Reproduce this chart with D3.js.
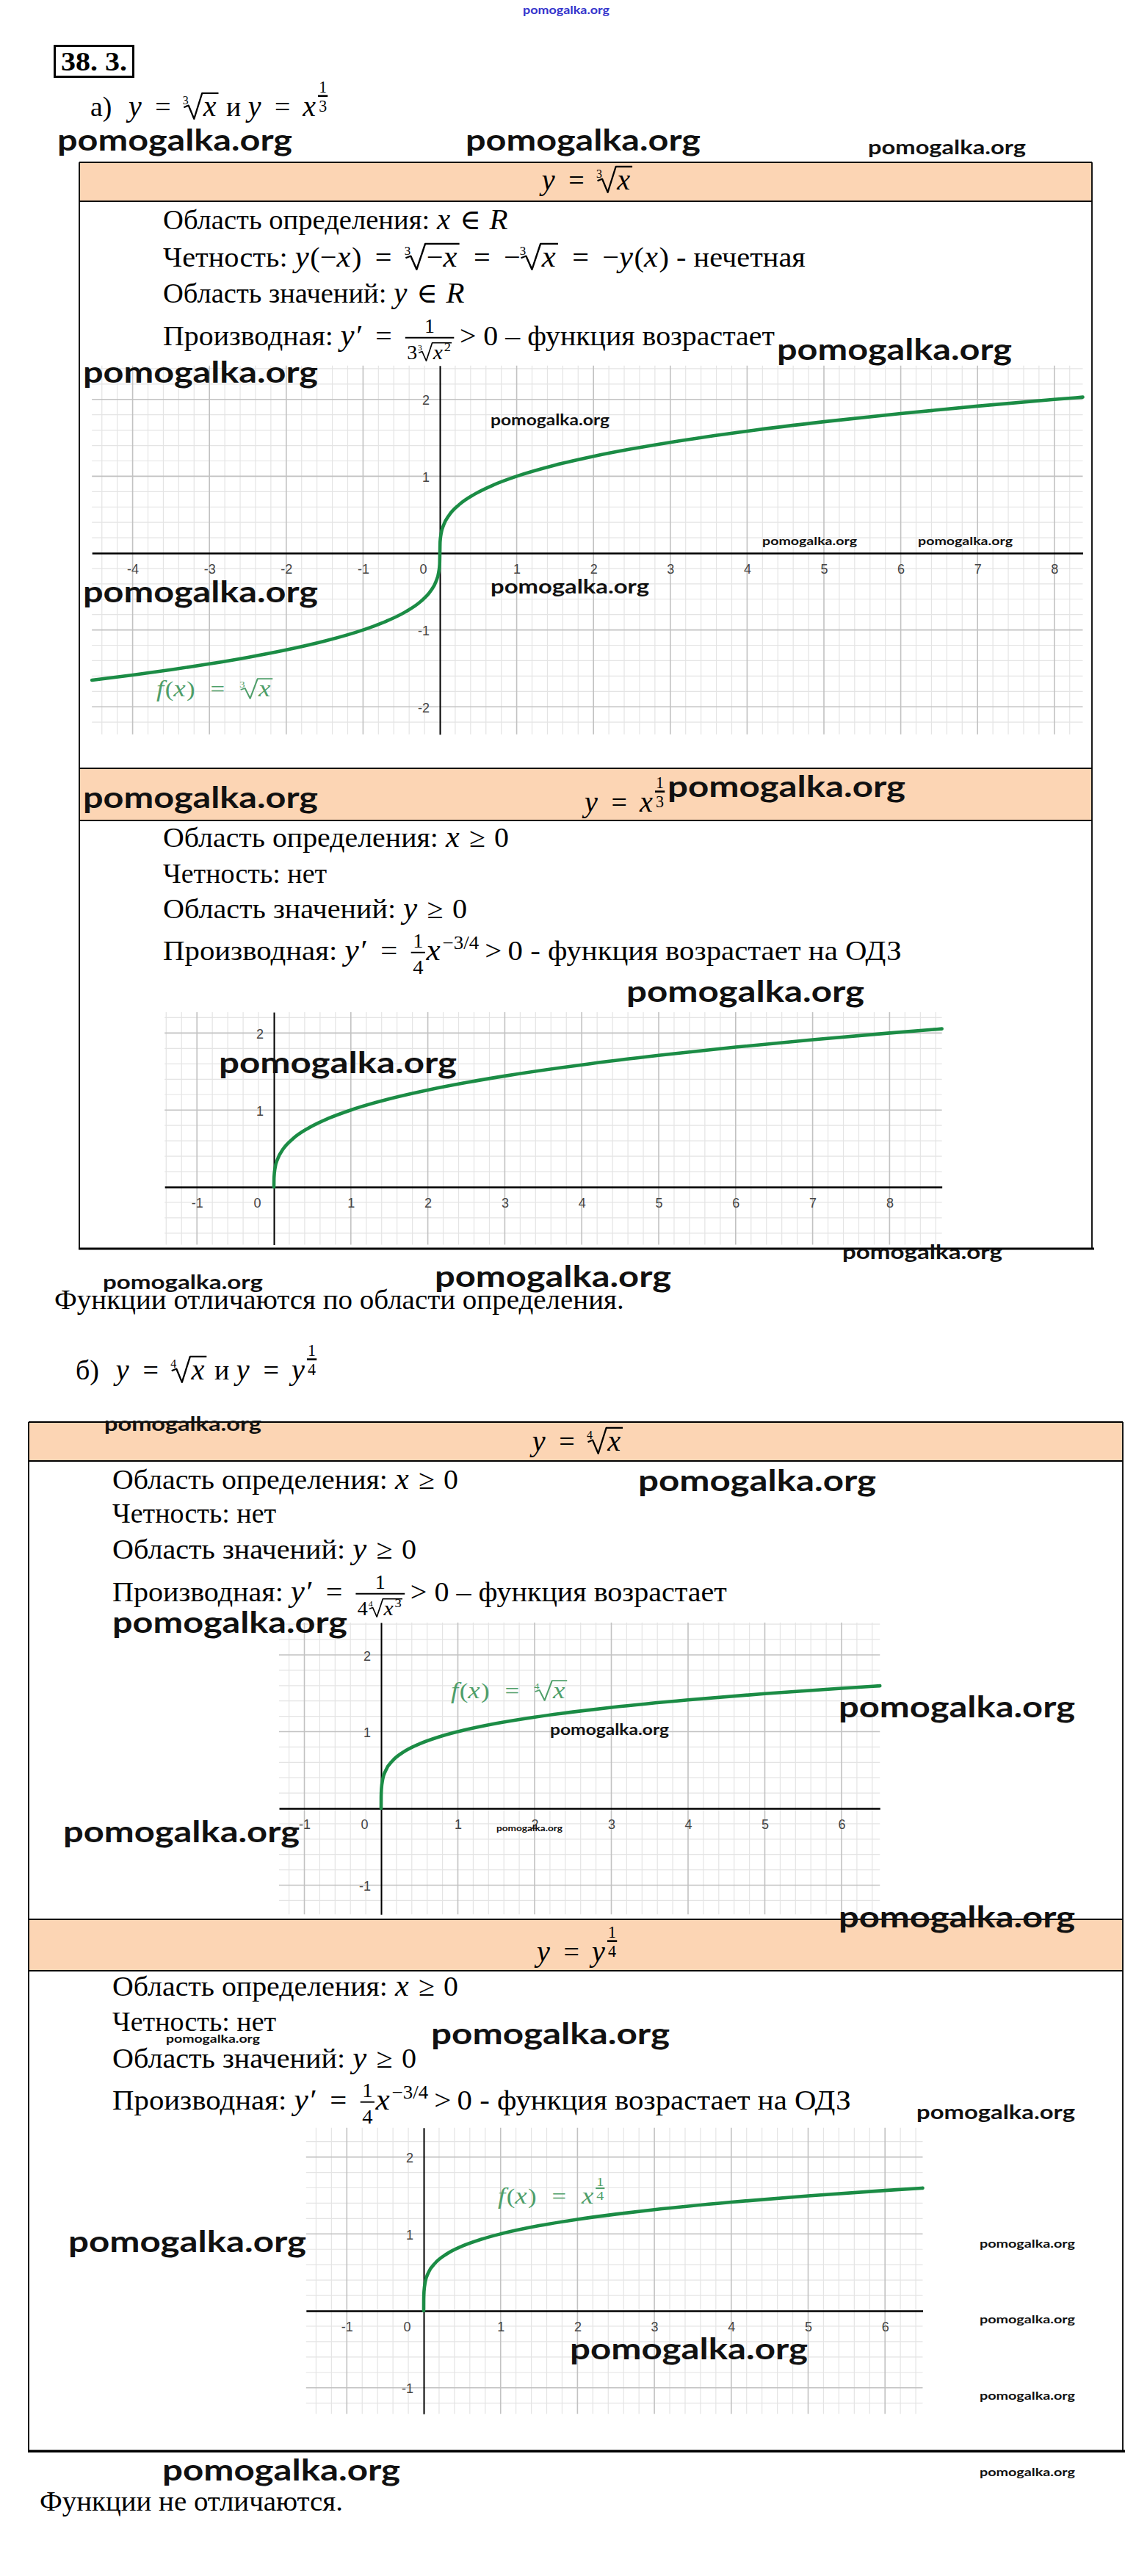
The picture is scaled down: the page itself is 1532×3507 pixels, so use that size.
<!DOCTYPE html>
<html><head><meta charset="utf-8">
<script src="https://cdn.jsdelivr.net/npm/d3@7"></script>
<style>body{margin:0;background:#fff} svg text{white-space:pre}</style>
</head><body>
<script>
// ================= DATA =================
// Graph 1: y = cbrt(x)
const g1X = [-4.53,-4,-3.5,-3,-2.5,-2,-1.5,-1,-0.7,-0.45,-0.25,-0.12,-0.05,-0.015,-0.003,0,0.003,0.015,0.05,0.12,0.25,0.45,0.7,1,1.5,2,2.5,3,4,5,6,7,8,8.37];
const g1Y = [-1.654,-1.587,-1.518,-1.442,-1.357,-1.26,-1.145,-1,-0.888,-0.766,-0.63,-0.493,-0.368,-0.247,-0.144,0,0.144,0.247,0.368,0.493,0.63,0.766,0.888,1,1.145,1.26,1.357,1.442,1.587,1.71,1.817,1.913,2.0,2.03];
// Graph 2: y = x^(1/3), x >= 0
const g2X = [0,0.002,0.015,0.05,0.12,0.25,0.45,0.7,1,1.5,2,2.5,3,4,5,6,7,8,8.68];
const g2Y = [0,0.126,0.247,0.368,0.493,0.63,0.766,0.888,1,1.145,1.26,1.357,1.442,1.587,1.71,1.817,1.913,2.0,2.055];
// Graph 3 / 4: y = x^(1/4)
const g3X = [0,0.0005,0.004,0.02,0.06,0.15,0.3,0.5,0.75,1,1.5,2,2.5,3,4,5,6,6.5];
const g3Y = [0,0.15,0.251,0.376,0.495,0.622,0.74,0.841,0.931,1,1.107,1.189,1.257,1.316,1.414,1.495,1.565,1.597];
const g4X = [0,0.0005,0.004,0.02,0.06,0.15,0.3,0.5,0.75,1,1.5,2,2.5,3,4,5,6,6.49];
const g4Y = [0,0.15,0.251,0.376,0.495,0.622,0.74,0.841,0.931,1,1.107,1.189,1.257,1.316,1.414,1.495,1.565,1.596];
// tick labels
const g1TicksX = [-4,-3,-2,-1,0,1,2,3,4,5,6,7,8];
const g1TicksY = [-2,-1,1,2];
const g2TicksX = [-1,0,1,2,3,4,5,6,7,8];
const g2TicksY = [1,2];
const g3TicksX = [-1,0,1,2,3,4,5,6];
const g3TicksY = [-1,1,2];
const g4TicksX = [-1,0,1,2,3,4,5,6];
const g4TicksY = [-1,1,2];
// texts
const WM = 'pomogalka.org';
const conclusionA = 'Функции отличаются по области определения.';
const conclusionB = 'Функции не отличаются.';

// ================= SETUP =================
const W=1532,H=3507;
const SERIF='"Liberation Serif","Times New Roman","DejaVu Serif",serif';
const SANS='"Liberation Sans","DejaVu Sans",sans-serif';
const PEACH='#fcd5b4', GREEN='#1b8c45', LGREEN='#4e9e69';
const svg=d3.select('body').append('svg').attr('width',W).attr('height',H)
  .attr('font-family',SERIF);
svg.append('rect').attr('width',W).attr('height',H).attr('fill','#fff');

const layerFill=svg.append('g');
const layerGraph=svg.append('g');
const layerText=svg.append('g').attr('fill','#000').style('color','#000');
const layerBorder=svg.append('g');
const layerWM=svg.append('g');

// ---------- formula layout ----------
function T(g,s,x,y,fs,it){
  const t=g.append('text').attr('x',x).attr('y',y).text(s);
  if(it){ t.attr('font-style','italic').attr('font-size',fs*1.06); return t.node().getComputedTextLength()+0.04*fs; }
  t.attr('font-size',fs);
  return t.node().getComputedTextLength();
}
function seq(g,items,x,y,fs){
  let cx=x;
  items.forEach(it=>{
    if(typeof it==='string') cx+=T(g,it,cx,y,fs,false);
    else if('i' in it) cx+=T(g,it.i,cx,y,fs,true);
    else if('sp' in it) cx+=it.sp*fs;
    else if('root' in it) cx=root(g,it,cx,y,fs);
    else if('frac' in it) cx=frac(g,it,cx,y,fs);
    else if('sup' in it) cx=seq(g,it.sup,cx+0.03*fs,y-0.4*fs,fs*0.66);
    else if('sfrac' in it) cx=sfrac(g,it,cx,y,fs);
  });
  return cx;
}
function root(g,it,x,y,fs){
  T(g,it.root,x-0.02*fs,y-0.43*fs,fs*0.42,false);
  const bx=x+0.72*fs;
  const ex=seq(g,it.body,bx,y,fs)+0.04*fs;
  const top=y-0.82*fs;
  g.append('path')
   .attr('d',`M${x+0.02*fs},${y-0.31*fs}L${x+0.19*fs},${y-0.38*fs}L${x+0.39*fs},${y+0.1*fs}L${x+0.68*fs},${top}L${ex},${top}`)
   .attr('fill','none').attr('stroke','currentColor').attr('stroke-width',0.06*fs).attr('stroke-linejoin','round');
  return ex+0.03*fs;
}
function frac(g,it,x,y,fs){
  const f2=fs*0.7,pad=0.06*fs;
  const gn=g.append('g'),gd=g.append('g');
  const wn=seq(gn,it.frac[0],0,0,f2), wd=seq(gd,it.frac[1],0,0,f2);
  const w=Math.max(wn,wd)+2*pad, bar=y-0.27*fs;
  gn.attr('transform',`translate(${x+(w-wn)/2},${bar-0.18*fs})`);
  gd.attr('transform',`translate(${x+(w-wd)/2},${bar+0.76*fs})`);
  g.append('line').attr('x1',x).attr('x2',x+w).attr('y1',bar).attr('y2',bar)
   .attr('stroke','currentColor').attr('stroke-width',0.05*fs);
  return x+w+0.04*fs;
}
function sfrac(g,it,x,y,fs){
  const f2=fs*0.58,pad=0.03*fs;
  const gn=g.append('g'),gd=g.append('g');
  const wn=seq(gn,it.sfrac[0],0,0,f2), wd=seq(gd,it.sfrac[1],0,0,f2);
  const w=Math.max(wn,wd)+2*pad, bar=y-0.72*fs, x0=x+0.04*fs;
  gn.attr('transform',`translate(${x0+(w-wn)/2},${bar-0.12*fs})`);
  gd.attr('transform',`translate(${x0+(w-wd)/2},${bar+0.56*fs})`);
  g.append('line').attr('x1',x0).attr('x2',x0+w).attr('y1',bar).attr('y2',bar)
   .attr('stroke','currentColor').attr('stroke-width',0.07*fs);
  return x0+w+0.02*fs;
}
// opts.end: right edge in the reference -> mild horizontal fit
function formula(items,x,y,fs,opts={}){
  const g=layerText.append('g');
  if(opts.color) g.attr('fill',opts.color).style('color',opts.color);
  const inner=g.append('g');
  const w=seq(inner,items,0,0,fs);
  let sx=1;
  if(opts.end!==undefined){ sx=(opts.end-x)/w; sx=Math.max(0.85,Math.min(1.2,sx)); }
  const left=opts.center!==undefined? opts.center-w/2 : x;
  g.attr('transform',`translate(${left},${y}) scale(${sx},1)`);
  return g;
}

// ---------- tables ----------
function table(x1,x2,y1,y2,heads,bottomW){
  heads.forEach(([a,b])=>layerFill.append('rect').attr('x',x1).attr('y',a).attr('width',x2-x1).attr('height',b-a).attr('fill',PEACH));
  const b=layerBorder;
  const hl=(y,w,xa=x1,xb=x2)=>b.append('line').attr('x1',xa).attr('x2',xb).attr('y1',y).attr('y2',y).attr('stroke','#000').attr('stroke-width',w);
  hl(y1,2.2);
  heads.forEach(([a,bb])=>{hl(a,2.2);hl(bb,2.2);});
  hl(y2,bottomW,x1-1,x2+3);
  [x1,x2].forEach(x=>b.append('line').attr('x1',x).attr('x2',x).attr('y1',y1).attr('y2',y2).attr('stroke','#000').attr('stroke-width',1.8));
}
table(108,1487,221,1700,[[221,274],[1046,1117]],3);
table(39,1529,1936,3337,[[1936,1989],[2613,2683]],3.5);

// ---------- graphs ----------
function graph(cfg,xs,ys,tx,ty){
  const g=layerGraph.append('g');
  const x=d3.scaleLinear().domain(cfg.xd).range([cfg.ox+cfg.xd[0]*cfg.u,cfg.ox+cfg.xd[1]*cfg.u]);
  const y=d3.scaleLinear().domain(cfg.yd).range([cfg.oy-cfg.yd[0]*cfg.u,cfg.oy-cfg.yd[1]*cfg.u]);
  const [xa,xb]=x.range(),[yb,yt]=y.range();
  const isInt=v=>Math.abs(v-Math.round(v))<1e-6;
  const sub=d=>d3.range(Math.ceil(d[0]*5-1e-9),Math.floor(d[1]*5+1e-9)+1).map(k=>k/5);
  const vx=sub(cfg.xd), vy=sub(cfg.yd);
  g.selectAll('.mx').data(vx.filter(v=>!isInt(v))).join('line').attr('x1',d=>x(d)).attr('x2',d=>x(d)).attr('y1',yt).attr('y2',yb).attr('stroke','#e4e4e4').attr('stroke-width',1.2);
  g.selectAll('.my').data(vy.filter(v=>!isInt(v))).join('line').attr('y1',d=>y(d)).attr('y2',d=>y(d)).attr('x1',xa).attr('x2',xb).attr('stroke','#e4e4e4').attr('stroke-width',1.2);
  g.selectAll('.Mx').data(vx.filter(v=>isInt(v)&&Math.round(v)!==0)).join('line').attr('x1',d=>x(d)).attr('x2',d=>x(d)).attr('y1',yt).attr('y2',yb).attr('stroke','#c2c2c2').attr('stroke-width',1.6);
  g.selectAll('.My').data(vy.filter(v=>isInt(v)&&Math.round(v)!==0)).join('line').attr('y1',d=>y(d)).attr('y2',d=>y(d)).attr('x1',xa).attr('x2',xb).attr('stroke','#c2c2c2').attr('stroke-width',1.6);
  const ax=g.append('g').attr('transform',`translate(0,${y(0)})`)
    .call(d3.axisBottom(x).tickValues(tx).tickSize(0).tickSizeOuter(0).tickFormat(d=>String(d)));
  ax.attr('font-size',18).attr('font-family',SANS);
  ax.select('.domain').attr('stroke','#000').attr('stroke-width',2.4);
  ax.selectAll('text').attr('y',28).attr('dy',null).attr('fill','#444');
  ax.selectAll('.tick').filter(d=>d===0).select('text').attr('x',-23);
  const ay=g.append('g').attr('transform',`translate(${x(0)},0)`)
    .call(d3.axisLeft(y).tickValues(ty).tickSize(0).tickSizeOuter(0).tickFormat(d=>String(d)));
  ay.attr('font-size',18).attr('font-family',SANS);
  ay.select('.domain').attr('stroke','#000').attr('stroke-width',2);
  ay.selectAll('text').attr('x',-14).attr('dy',null).attr('y',7).attr('fill','#444');
  g.append('path').datum(d3.zip(xs,ys))
    .attr('d',d3.line().x(d=>x(d[0])).y(d=>y(d[1])).curve(d3.curveMonotoneX))
    .attr('fill','none').attr('stroke',GREEN).attr('stroke-width',4.6).attr('stroke-linecap','round');
}
graph({ox:599,oy:753,u:104.6,xd:[-4.53,8.37],yd:[-2.36,2.44]},g1X,g1Y,g1TicksX,g1TicksY);
graph({ox:373,oy:1616,u:104.8,xd:[-1.42,8.68],yd:[-0.75,2.27]},g2X,g2Y,g2TicksX,g2TicksY);
graph({ox:519,oy:2462,u:104.5,xd:[-1.33,6.5],yd:[-1.38,2.42]},g3X,g3Y,g3TicksX,g3TicksY);
graph({ox:577,oy:3146,u:104.7,xd:[-1.53,6.49],yd:[-1.34,2.38]},g4X,g4Y,g4TicksX,g4TicksY);

// graph labels
const fxRoot=n=>[{i:'f'},'(',{i:'x'},')',{sp:0.6},'=',{sp:0.6},{root:n,body:[{i:'x'}]}];
formula(fxRoot('3'),213,948,29,{color:LGREEN,end:375});
formula(fxRoot('4'),614,2312,29,{color:LGREEN,end:781});
formula([{i:'f'},'(',{i:'x'},')',{sp:0.6},'=',{sp:0.6},{i:'x'},{sfrac:[['1'],['4']]}],678,3000,29,{color:LGREEN,end:825});

// ---------- title ----------
layerBorder.append('rect').attr('x',74.5).attr('y',62.5).attr('width',107).attr('height',42)
  .attr('fill','none').attr('stroke','#000').attr('stroke-width',3);
layerText.append('text').attr('x',83).attr('y',96).attr('font-size',36).attr('font-weight','bold')
  .attr('textLength',90).attr('lengthAdjust','spacingAndGlyphs').text('38. 3.');

const FS=38;
const eq=[{sp:0.45},'=',{sp:0.45}];
formula(['а)',{sp:0.6},{i:'y'},...eq,{root:'3',body:[{i:'x'}]},{sp:0.25},'и',{sp:0.25},{i:'y'},...eq,{i:'x'},{sfrac:[['1'],['3']]}],123,158,FS,{end:447});

// table 1
formula([{i:'y'},...eq,{root:'3',body:[{i:'x'}]}],0,258,FS,{center:800});
formula(['Область определения: ',{i:'x'},{sp:0.3},'∈',{sp:0.3},{i:'R'}],222,312,FS,{end:693});
formula(['Четность: ',{i:'y'},'(−',{i:'x'},')',...eq,{root:'3',body:['−',{i:'x'}]},...eq,'−',{root:'3',body:[{i:'x'}]},...eq,'−',{i:'y'},'(',{i:'x'},')',' - нечетная'],222,363,FS,{end:1097});
formula(['Область значений: ',{i:'y'},{sp:0.3},'∈',{sp:0.3},{i:'R'}],222,412,FS,{end:634});
formula(['Производная: ',{i:'y′'},...eq,{frac:[['1'],['3',{sp:0.05},{root:'3',body:[{i:'x'},{sup:['2']}]}]]},{sp:0.15},'>',{sp:0.25},'0 – функция возрастает'],222,470,FS,{end:1055});

// table 2
formula([{i:'y'},...eq,{i:'x'},{sfrac:[['1'],['3']]}],796,1105,FS);
const geLines=(x,b)=>{
  formula(['Область определения: ',{i:'x'},{sp:0.3},'≥',{sp:0.3},'0'],x,b[0],FS,{end:x+471});
  formula(['Четность: нет'],x,b[1],FS);
  formula(['Область значений: ',{i:'y'},{sp:0.3},'≥',{sp:0.3},'0'],x,b[2],FS,{end:x+414});
};
const derivPow=['Производная: ',{i:'y′'},...eq,{frac:[['1'],['4']]},{i:'x'},{sup:['−3/4']},{sp:0.2},'>',{sp:0.2},'0 - функция возрастает на ОДЗ'];
geLines(222,[1153,1202,1250]);
formula(derivPow,222,1307,FS,{end:1228});

// conclusions & part b
formula([conclusionA],74,1782,FS,{end:850});
formula(['б)',{sp:0.6},{i:'y'},...eq,{root:'4',body:[{i:'x'}]},{sp:0.25},'и',{sp:0.25},{i:'y'},...eq,{i:'y'},{sfrac:[['1'],['4']]}],103,1878,FS,{end:432});

// table 3
formula([{i:'y'},...eq,{root:'4',body:[{i:'x'}]}],0,1975,FS,{center:787});
geLines(153,[2027,2073,2122]);
formula(['Производная: ',{i:'y′'},...eq,{frac:[['1'],['4',{sp:0.05},{root:'4',body:[{i:'x'},{sup:['3']}]}]]},{sp:0.15},'>',{sp:0.25},'0 – функция возрастает'],153,2180,FS,{end:990});

// table 4
formula([{i:'y'},...eq,{i:'y'},{sfrac:[['1'],['4']]}],0,2670,FS,{center:786});
geLines(153,[2717,2765,2815]);
formula(derivPow,153,2872,FS,{end:1159});

formula([conclusionB],54,3418,FS,{end:467});

// ---------- watermarks ----------
const wms=[
 [712,19,118,15,'#3434cc'],
 [78,205,320,40],[634,205,320,40],[1182,210,215,27],[1058,490,320,40],
 [113,521,320,40],[668,579,162,20],[1038,742,129,16],[1250,742,129,16],
 [113,820,320,40],[668,808,216,27],[113,1100,320,40],[909,1085,324,40],
 [853,1364,324,40],[298,1461,324,40],[1147,1714,218,27],[140,1755,218,27],
 [592,1752,322,40],[142,1948,214,27],[869,2030,324,40],[153,2223,320,40],
 [1142,2338,322,40],[749,2362,162,20],[86,2508,322,40],[676,2493,90,11],
 [1142,2624,322,40],[226,2781,128,16],[587,2783,325,40],[1248,2885,216,27],
 [93,3066,324,40],[1334,3060,130,16],[1334,3163,130,16],[776,3212,324,40],
 [1334,3267,130,16],[221,3377,324,40],[1334,3371,130,16]
];
wms.forEach(([x,y,w,fs,c])=>{
  layerWM.append('text').attr('x',x).attr('y',y).attr('font-size',fs)
   .attr('font-family','Lato,"Open Sans",sans-serif').attr('font-weight',700)
   .attr('fill',c||'#111').attr('textLength',w).attr('lengthAdjust','spacingAndGlyphs').text(WM);
});
</script>
</body></html>
